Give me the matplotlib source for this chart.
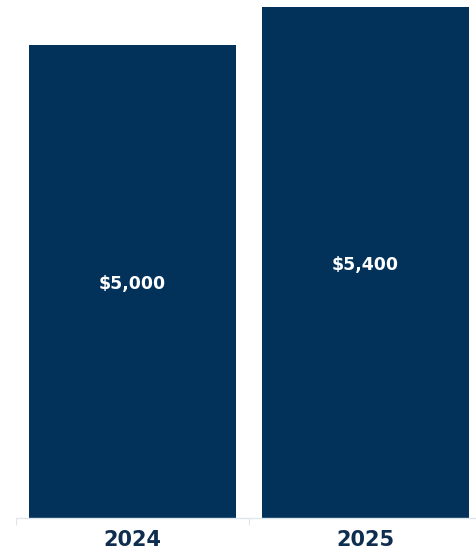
import matplotlib.pyplot as plt

years = ['2024', '2025']
amounts = [5000, 5400]
labels = ['$5,000', '$5,400']

navy = '#02325a'

fig = plt.figure(figsize=(4.77, 5.52), dpi=100)
# axes run slightly past the right edge, like the original
ax = fig.add_axes([16 / 477, 34 / 552, 466 / 477, 518 / 552])

bars = ax.bar(years, amounts, width=0.89, color=navy)
ax.set_xlim(-0.5, 1.5)
ax.set_ylim(0, 5474)

for b, lab in zip(bars, labels):
    ax.annotate(lab, (b.get_x() + b.get_width() / 2, b.get_height() / 2),
                xytext=(0, -2), textcoords='offset points',
                ha='center', va='center', color='white', fontsize=12.5,
                fontweight='semibold', family='DejaVu Sans')

for s in ['top', 'right', 'left']:
    ax.spines[s].set_visible(False)
ax.spines['bottom'].set_color('#dde6ee')
ax.spines['bottom'].set_linewidth(1)
ax.set_yticks([])

ax.set_xticks([-0.5, 0.5], minor=False)
ax.set_xticklabels([])
ax.tick_params(axis='x', which='major', length=5, color='#dde6ee')
ax.set_xticks([0, 1], minor=True)
ax.set_xticklabels(years, minor=True, fontsize=15, fontweight='bold',
                   color='#0f2d4f', family='DejaVu Sans')
ax.tick_params(axis='x', which='minor', length=0, pad=9)

fig.savefig('out.png', dpi=100)
